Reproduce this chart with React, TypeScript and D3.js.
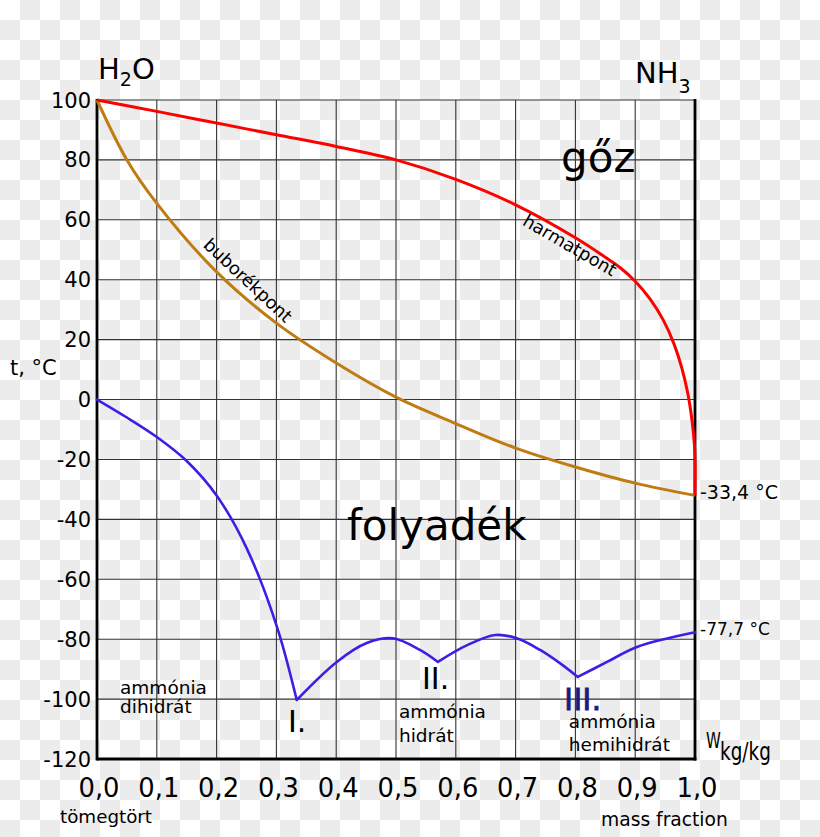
import React from 'react'
import * as d3 from 'd3'

// NH3 mass fraction (kg/kg) and temperature (°C)
const dewX = [0, 0.1, 0.2, 0.3, 0.4, 0.5, 0.6, 0.7, 0.8, 0.85, 0.875, 0.9, 0.925, 0.947, 0.965, 0.978, 0.988, 0.995, 0.999, 1, 1]
const dewT = [100, 96.2, 92.3, 88.4, 84.5, 80, 73.5, 65, 54, 47.5, 44, 39.5, 33.5, 26.5, 18.5, 10.5, 2, -7, -15, -20, -32]

const bubbleX = [0, 0.05, 0.1, 0.2, 0.3, 0.4, 0.5, 0.6, 0.7, 0.8, 0.9, 1]
const bubbleT = [100, 80, 65.5, 42.6, 25.5, 12.2, 0.8, -8, -16.2, -22.5, -27.9, -32]

// freezing line, one piece between each pair of cusps (I, II, III)
const freezeX = [
  [0, 0.05, 0.1, 0.15, 0.2, 0.25, 0.3, 0.334],
  [0.334, 0.401, 0.451, 0.495, 0.54, 0.57],
  [0.57, 0.619, 0.666, 0.702, 0.741, 0.774, 0.804],
  [0.804, 0.853, 0.903, 1]
]
const freezeT = [
  [0, -6, -12.5, -20.5, -32, -49.5, -75.3, -100.3],
  [-100.3, -87.6, -81.3, -79.7, -83.6, -87.6],
  [-87.6, -82, -78.6, -79.7, -83.6, -88, -92.6],
  [-92.6, -87.6, -82.6, -77.7]
]

const xTicks = [0, 0.1, 0.2, 0.3, 0.4, 0.5, 0.6, 0.7, 0.8, 0.9, 1]
const yTicks = [-120, -100, -80, -60, -40, -20, 0, 20, 40, 60, 80, 100]

const font = 'DejaVu Sans'
const fmtX = d3.formatLocale({ decimal: ',', thousands: ' ', grouping: [3], currency: ['', ''], minus: '-' }).format('.1f')

export default function App() {
  const x = d3.scaleLinear().domain([0, 1]).range([97, 695])
  const y = d3.scaleLinear().domain([-120, 100]).range([759, 100])

  const line = d3
    .line<number[]>()
    .x(d => x(d[0]))
    .y(d => y(d[1]))
    .curve(d3.curveCatmullRom.alpha(0.5))
  const zip = (xs: number[], ts: number[]) => xs.map((v, i) => [v, ts[i]])

  const dewPath = line(zip(dewX, dewT)) || ''
  const bubblePath = line(zip(bubbleX, bubbleT)) || ''
  const freezePath = freezeX.map((xs, i) => line(zip(xs, freezeT[i]))).join('')

  const [x0, x1] = x.range()
  const [yb, yt] = y.range()

  return (
    <svg width={820} height={837} style={{ position: 'absolute', left: 0, top: 0 }} fontFamily={font}>
      <defs>
        <pattern id="chk" width="40" height="40" patternUnits="userSpaceOnUse">
          <rect width="40" height="40" fill="#ffffff" />
          <rect x="20" y="0" width="20" height="20" fill="#ececec" />
          <rect x="0" y="20" width="20" height="20" fill="#ececec" />
        </pattern>
      </defs>
      <rect width={820} height={837} fill="url(#chk)" />

      {/* grid */}
      <g stroke="#333" strokeWidth={1.1}>
        {xTicks.slice(1, -1).map(t => (
          <line key={'vx' + t} x1={x(t)} x2={x(t)} y1={yt} y2={yb} />
        ))}
        {yTicks.slice(1).map(t => (
          <line key={'hy' + t} x1={x0} x2={x1} y1={y(t)} y2={y(t)} />
        ))}
      </g>

      {/* axes frame */}
      <g stroke="#000" strokeWidth={2.8} fill="none">
        <line x1={x0} x2={x0} y1={yt - 1} y2={yb + 1.4} />
        <line x1={x0} x2={x1 + 1.4} y1={yb} y2={yb} />
        <line x1={x1} x2={x1} y1={yt - 1} y2={yb + 1.4} />
      </g>

      {/* curves */}
      <path d={bubblePath} fill="none" stroke="#bf7c12" strokeWidth={3} />
      <path d={dewPath} fill="none" stroke="#ff0000" strokeWidth={3} />
      <path d={freezePath} fill="none" stroke="#3c1ee6" strokeWidth={2.6} strokeLinecap="round" strokeLinejoin="round" />

      {/* tick labels */}
      <g fontSize={21} textAnchor="end" fill="#000">
        {yTicks.map(t => (
          <text key={'yl' + t} x={x0 - 6} y={y(t)} dy="0.36em">
            {String(t)}
          </text>
        ))}
      </g>
      <g fontSize={25.8} textAnchor="middle" fill="#000">
        {xTicks.map(t => (
          <text key={'xl' + t} x={x(t) + 2} y={y(-120) + 38}>
            {fmtX(t)}
          </text>
        ))}
      </g>

      {/* component names */}
      <text x={x(0.0017)} y={y(107)} fontSize={29}>
        H<tspan fontSize={19} dy={6.7}>2</tspan>
        <tspan dy={-6.7}>O</tspan>
      </text>
      <text x={x(0.8997)} y={y(105.6)} fontSize={29}>
        NH<tspan fontSize={19} dy={9.4}>3</tspan>
      </text>

      {/* phase regions */}
      <text x={x(0.776)} y={y(76)} fontSize={42}>gőz</text>
      <text x={x(0.418)} y={y(-46.9)} fontSize={42}>folyadék</text>

      {/* axis titles */}
      <text x={x(-0.1455)} y={y(8.2)} fontSize={21}>t, °C</text>
      <text x={x(-0.0619)} y={y(-141.4)} fontSize={18.3}>tömegtört</text>
      <text x={x(0.8428)} y={y(-142.4)} fontSize={18.7}>mass fraction</text>
      <g transform={`translate(${x(1.0184)},${y(-116.3)}) scale(1,1.37)`}>
        <text x={0} y={0} fontSize={15}>W</text>
        <text x={14} y={8.8} fontSize={18.4}>kg/kg</text>
      </g>

      {/* end values */}
      <text x={x(1.0084)} y={y(-33.2)} fontSize={19}>-33,4 °C</text>
      <text x={x(1.0084)} y={y(-78.6)} fontSize={17}>-77,7 °C</text>

      {/* curve names */}
      <text
        transform={`translate(${x(0.2525)},${y(39.9)}) rotate(43)`}
        textAnchor="middle"
        dominantBaseline="central"
        fontSize={17.8}
      >
        buborékpont
      </text>
      <text
        transform={`translate(${x(0.791)},${y(51.6)}) rotate(30)`}
        textAnchor="middle"
        dominantBaseline="central"
        fontSize={17.8}
      >
        harmatpont
      </text>

      {/* eutectics and hydrates */}
      <text x={x(0.3194)} y={y(-111)} fontSize={30}>I.</text>
      <text x={x(0.5435)} y={y(-96.6)} fontSize={30}>II.</text>
      <text x={x(0.781)} y={y(-103.6)} fontSize={31} fill="#1c1c7a" stroke="#1c1c7a" strokeWidth={0.8}>III.</text>

      <g fontSize={18.5}>
        <text x={x(0.0385)} y={y(-98.3)}>ammónia</text>
        <text x={x(0.0385)} y={y(-104.6)}>dihidrát</text>
        <text x={x(0.505)} y={y(-106.3)}>ammónia</text>
        <text x={x(0.505)} y={y(-114.3)}>hidrát</text>
        <text x={x(0.789)} y={y(-109.6)}>ammónia</text>
        <text x={x(0.789)} y={y(-117.3)}>hemihidrát</text>
      </g>
    </svg>
  )
}
